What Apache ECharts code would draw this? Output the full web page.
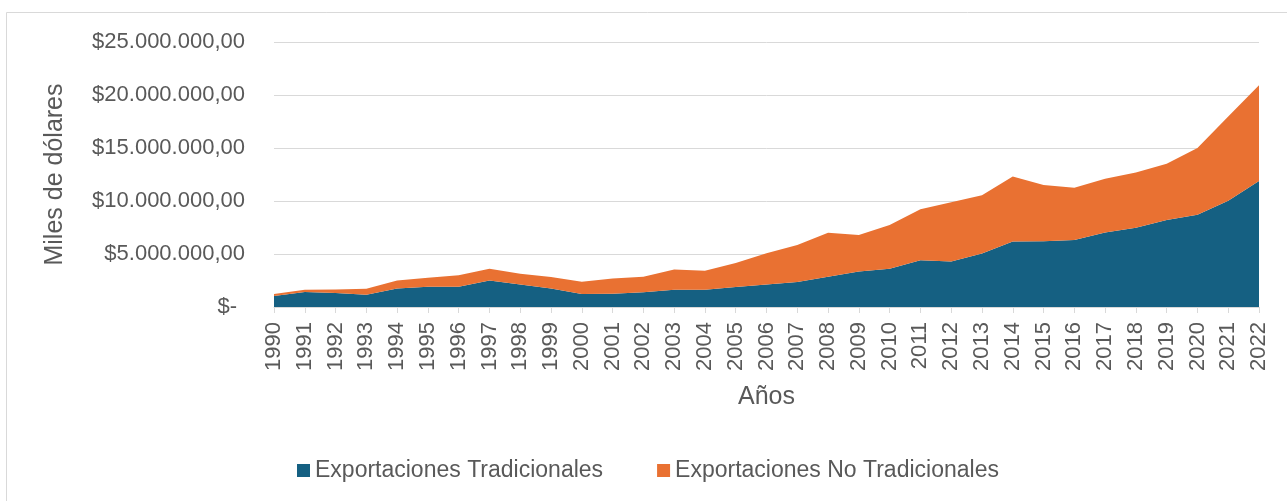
<!DOCTYPE html>
<html>
<head>
<meta charset="utf-8">
<script src="https://cdn.jsdelivr.net/npm/echarts@6/dist/echarts.min.js"></script>
<style>
html,body{margin:0;padding:0;background:#fff;}
#chart{width:1287px;height:501px;}
</style>
</head>
<body>
<div id="chart"></div>
<script>
const years = ['1990','1991','1992','1993','1994','1995','1996','1997','1998','1999','2000','2001','2002','2003','2004','2005','2006','2007','2008','2009','2010','2011','2012','2013','2014','2015','2016','2017','2018','2019','2020','2021','2022'];
const tradicionales = [1030000,1410000,1310000,1160000,1750000,1910000,1910000,2500000,2130000,1750000,1220000,1250000,1380000,1630000,1630000,1880000,2120000,2350000,2850000,3350000,3600000,4410000,4290000,5040000,6170000,6200000,6320000,7040000,7480000,8200000,8700000,10020000,11890000];
const noTradicionales = [190000,220000,350000,560000,750000,840000,1090000,1100000,1000000,1070000,1160000,1440000,1470000,1910000,1780000,2280000,2960000,3500000,4160000,3440000,4130000,4820000,5600000,5510000,6130000,5320000,4920000,5070000,5200000,5320000,6290000,7950000,9020000];
const seriesNames = ['Exportaciones Tradicionales','Exportaciones No Tradicionales'];
const colors = ['#156082','#E97132'];

function fmt(v){
  if (v === 0) return '{z|$-}';
  const s = Math.round(v).toString().replace(/\B(?=(\d{3})+(?!\d))/g,'.');
  return '$' + s + ',00';
}
const FONT = '"Liberation Sans", Arial, sans-serif';
const chart = echarts.init(document.getElementById('chart'), null, {renderer:'canvas'});
chart.setOption({
  animation:false,
  backgroundColor:'#ffffff',
  graphic:[{type:'rect',shape:{x:6.5,y:12.5,width:1300,height:500},style:{fill:'none',stroke:'#d9d9d9',lineWidth:1},silent:true}],
  grid:{left:274,right:28,top:42,bottom:194},
  legend:{
    data:seriesNames, left:297, top:459, padding:0, itemWidth:13, itemHeight:13, itemGap:54,
    icon:'rect',
    textStyle:{color:'#595959',fontSize:23,fontFamily:FONT}
  },
  xAxis:{
    type:'category', data:years, boundaryGap:false,
    name:'Años', nameLocation:'middle', nameGap:78,
    nameTextStyle:{color:'#595959',fontSize:25,fontFamily:FONT},
    axisLine:{show:true,lineStyle:{color:'#d9d9d9',width:1}},
    axisTick:{show:true,alignWithLabel:true,length:6,lineStyle:{color:'#d9d9d9'}},
    axisLabel:{rotate:90,interval:0,margin:15,color:'#595959',fontSize:22,fontFamily:FONT},
    splitLine:{show:false}
  },
  yAxis:{
    type:'value', min:0, max:25000000, interval:5000000,
    name:'Miles de dólares', nameLocation:'middle', nameGap:206,
    nameTextStyle:{color:'#595959',fontSize:25,fontFamily:FONT},
    axisLine:{show:false}, axisTick:{show:false},
    axisLabel:{margin:29,color:'#595959',fontSize:22,fontFamily:FONT,formatter:fmt,
      rich:{z:{color:'#595959',fontSize:22,fontFamily:FONT,padding:[0,8,0,0]}}},
    splitLine:{show:true,lineStyle:{color:'#d9d9d9',width:1}}
  },
  series:[
    {name:seriesNames[0],type:'line',stack:'total',data:tradicionales,symbol:'none',
     lineStyle:{width:0},areaStyle:{color:colors[0],opacity:1},itemStyle:{color:colors[0]}},
    {name:seriesNames[1],type:'line',stack:'total',data:noTradicionales,symbol:'none',
     lineStyle:{width:0},areaStyle:{color:colors[1],opacity:1},itemStyle:{color:colors[1]}}
  ]
});
</script>
</body>
</html>
